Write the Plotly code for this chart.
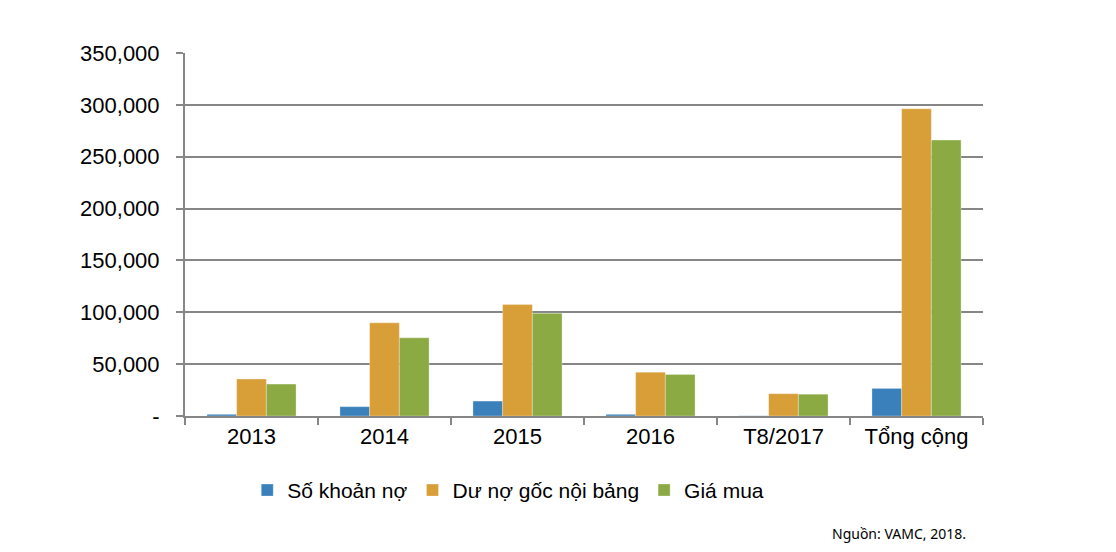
import plotly.graph_objects as go

categories = ["2013", "2014", "2015", "2016", "T8/2017", "Tổng cộng"]
so_khoan_no = [1600, 9000, 14400, 1600, 200, 26600]
du_no_goc = [35600, 89800, 107400, 42300, 21500, 296200]
gia_mua = [30800, 75400, 99000, 40100, 21000, 266000]

series_names = ["Số khoản nợ", "Dư nợ gốc nội bảng", "Giá mua"]
colors = ["#3A80BA", "#D89E37", "#8BAA43"]

y_tickvals = [0, 50000, 100000, 150000, 200000, 250000, 300000, 350000]
y_ticktext = ["-", "50,000", "100,000", "150,000", "200,000", "250,000", "300,000", "350,000"]

fig = go.Figure()
for name, vals, col in zip(series_names, [so_khoan_no, du_no_goc, gia_mua], colors):
    fig.add_trace(go.Bar(
        x=categories, y=vals, name=name,
        marker=dict(color=col, line=dict(color="rgba(255,255,255,0.5)", width=0.6)),
    ))

font_main = "Liberation Sans, Arial, sans-serif"
fig.update_layout(
    width=1116, height=552,
    margin=dict(l=185, r=133, t=53, b=136),
    paper_bgcolor="white", plot_bgcolor="white",
    barmode="group", bargap=0.33, bargroupgap=0,
    font=dict(family=font_main, size=22, color="#000000"),
    showlegend=True,
    legend=dict(
        orientation="h", x=0.078, xanchor="left", y=-0.205, yanchor="middle",
        font=dict(family=font_main, size=21, color="#000000"),
        itemwidth=30, tracegroupgap=0, traceorder="normal",
    ),
    xaxis=dict(
        type="category",
        showline=True, linecolor="#868686", linewidth=2,
        ticks="outside", tickson="boundaries", ticklen=7, tickwidth=2, tickcolor="#868686",
        showgrid=False,
        tickfont=dict(family=font_main, size=22, color="#000000"),
    ),
    yaxis=dict(
        range=[0, 350000],
        tickvals=y_tickvals, ticktext=y_ticktext,
        showline=True, linecolor="#868686", linewidth=2,
        ticks="outside", ticklen=7, tickwidth=2, tickcolor="#868686",
        showgrid=True, gridcolor="#868686", gridwidth=2,
        zeroline=False,
        tickfont=dict(family=font_main, size=22, color="#000000"),
        ticklabelstandoff=12,
    ),
    annotations=[dict(
        text="Nguồn: VAMC, 2018.", xref="paper", yref="paper",
        x=(968 - 185) / 798, y=(416 - 533) / 363, xanchor="right", yanchor="middle",
        showarrow=False, font=dict(family="Noto Sans, Open Sans, sans-serif", size=14, color="#000000"),
    )],
)

fig.write_html("out.html")
